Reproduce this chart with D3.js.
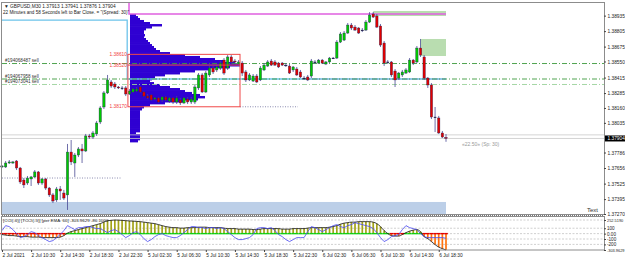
<!DOCTYPE html>
<html>
<head>
<meta charset="utf-8">
<script src="https://cdn.jsdelivr.net/npm/d3@7"></script>
<style>
  body { margin: 0; background: #fff; }
  svg { display: block; }
  text { font-family: "Liberation Sans", Arial, sans-serif; }
</style>
</head>
<body>
<svg id="chart" width="625" height="263"></svg>
<script>
// GBPUSD M30 candles, 2 Jul 06:30 .. 6 Jul 19:00
const opens = [
  1.37665,1.37665,1.37698,1.37698,1.37715,1.37656,1.37555,1.37530,1.37564,1.37581,
  1.37623,1.37530,1.37564,1.37488,1.37430,1.37388,1.37480,1.37446,1.37430,1.37790,
  1.37698,1.37765,1.37816,1.37799,1.37925,1.37916,1.37942,1.38042,1.38168,1.38286,
  1.38378,1.38361,1.38336,1.38328,1.38328,1.38277,1.38294,1.38302,1.38336,1.38294,
  1.38260,1.38269,1.38235,1.38244,1.38227,1.38252,1.38218,1.38244,1.38210,1.38227,
  1.38202,1.38235,1.38210,1.38210,1.38328,1.38437,1.38294,1.38437,1.38495,1.38479,
  1.38495,1.38562,1.38495,1.38588,1.38554,1.38529,1.38537,1.38462,1.38395,1.38386,
  1.38428,1.38395,1.38479,1.38512,1.38554,1.38546,1.38537,1.38537,1.38520,1.38512,
  1.38479,1.38487,1.38462,1.38411,1.38420,1.38428,1.38546,1.38537,1.38562,1.38529,
  1.38546,1.38579,1.38579,1.38713,1.38730,1.38789,1.38856,1.38839,1.38831,1.38814,
  1.38814,1.38881,1.38949,1.38932,1.38848,1.38705,1.38546,1.38546,1.38470,1.38411,
  1.38437,1.38453,1.38462,1.38562,1.38546,1.38663,1.38588,1.38411,1.38353,1.38084,
  1.38076,1.37950,1.37913
];
const highs = [
  1.37681,1.37715,1.37723,1.37715,1.37723,1.37665,1.37572,1.37589,1.37589,1.37639,
  1.37631,1.37572,1.37572,1.37497,1.37446,1.37497,1.37505,1.37472,1.37858,1.37891,
  1.37782,1.37832,1.37858,1.37942,1.37942,1.37967,1.38051,1.38176,1.38302,1.38437,
  1.38395,1.38378,1.38344,1.38344,1.38344,1.38319,1.38328,1.38336,1.38344,1.38302,
  1.38277,1.38277,1.38252,1.38252,1.38260,1.38260,1.38252,1.38252,1.38260,1.38244,
  1.38252,1.38252,1.38252,1.38353,1.38453,1.38453,1.38470,1.38512,1.38512,1.38520,
  1.38554,1.38579,1.38604,1.38604,1.38571,1.38562,1.38554,1.38479,1.38453,1.38445,
  1.38445,1.38512,1.38537,1.38562,1.38571,1.38562,1.38546,1.38546,1.38537,1.38529,
  1.38512,1.38504,1.38479,1.38428,1.38437,1.38571,1.38562,1.38571,1.38571,1.38554,
  1.38588,1.38588,1.38730,1.38797,1.38806,1.38873,1.38873,1.38856,1.38839,1.38831,
  1.38898,1.38965,1.38965,1.38949,1.38865,1.38722,1.38562,1.38554,1.38487,1.38462,
  1.38479,1.38495,1.38579,1.38571,1.38680,1.38739,1.38604,1.38420,1.38369,1.38168,
  1.38093,1.37967,1.37941
];
const lows = [
  1.37656,1.37656,1.37690,1.37690,1.37639,1.37522,1.37488,1.37514,1.37505,1.37572,
  1.37514,1.37514,1.37472,1.37413,1.37362,1.37371,1.37388,1.37388,1.37304,1.37681,
  1.37581,1.37748,1.37698,1.37790,1.37900,1.37900,1.37925,1.38025,1.38151,1.38277,
  1.38328,1.38319,1.38319,1.38311,1.38260,1.38269,1.38286,1.38294,1.38286,1.38252,
  1.38235,1.38218,1.38227,1.38202,1.38210,1.38218,1.38202,1.38193,1.38193,1.38185,
  1.38193,1.38193,1.38193,1.38193,1.38311,1.38286,1.38286,1.38420,1.38445,1.38462,
  1.38479,1.38437,1.38479,1.38529,1.38529,1.38520,1.38428,1.38378,1.38386,1.38378,
  1.38369,1.38386,1.38470,1.38504,1.38512,1.38512,1.38495,1.38512,1.38504,1.38445,
  1.38462,1.38428,1.38411,1.38395,1.38386,1.38411,1.38529,1.38529,1.38529,1.38520,
  1.38537,1.38571,1.38571,1.38705,1.38722,1.38781,1.38814,1.38806,1.38781,1.38797,
  1.38806,1.38873,1.38915,1.38831,1.38672,1.38512,1.38529,1.38420,1.38336,1.38395,
  1.38420,1.38445,1.38453,1.38520,1.38537,1.38588,1.38395,1.38328,1.38067,1.37958,
  1.37942,1.37908,1.37876
];
const closes = [
  1.37673,1.37698,1.37707,1.37707,1.37656,1.37539,1.37514,1.37572,1.37581,1.37623,
  1.37530,1.37564,1.37488,1.37430,1.37379,1.37480,1.37463,1.37404,1.37790,1.37707,
  1.37765,1.37816,1.37799,1.37925,1.37916,1.37950,1.38034,1.38160,1.38286,1.38395,
  1.38344,1.38336,1.38328,1.38328,1.38277,1.38302,1.38319,1.38319,1.38294,1.38260,
  1.38244,1.38227,1.38244,1.38210,1.38252,1.38227,1.38244,1.38210,1.38244,1.38202,
  1.38244,1.38210,1.38235,1.38336,1.38437,1.38294,1.38453,1.38495,1.38462,1.38504,
  1.38537,1.38453,1.38588,1.38546,1.38546,1.38546,1.38453,1.38395,1.38437,1.38428,
  1.38378,1.38495,1.38520,1.38546,1.38520,1.38520,1.38504,1.38520,1.38520,1.38453,
  1.38504,1.38437,1.38420,1.38411,1.38395,1.38554,1.38546,1.38562,1.38537,1.38546,
  1.38579,1.38579,1.38713,1.38781,1.38789,1.38856,1.38831,1.38814,1.38789,1.38814,
  1.38881,1.38940,1.38923,1.38839,1.38688,1.38537,1.38546,1.38437,1.38395,1.38453,
  1.38462,1.38479,1.38562,1.38537,1.38663,1.38604,1.38411,1.38353,1.38084,1.38084,
  1.37950,1.37916,1.37904
];

// time axis labels, one every 8 bars
const timeLabels = ["2 Jul 2021","2 Jul 10:30","2 Jul 14:30","2 Jul 18:30","2 Jul 22:30",
  "5 Jul 02:30","5 Jul 06:30","5 Jul 10:30","5 Jul 14:30","5 Jul 18:30","5 Jul 22:30",
  "6 Jul 02:30","6 Jul 06:30","6 Jul 10:30","6 Jul 14:30","6 Jul 18:30"];
const timeLabelBars = [0,8,16,24,32,40,48,56,64,72,80,88,96,104,112,120];

// price scale labels
const priceTicks = [1.38935,1.38805,1.38675,1.38550,1.38415,1.38285,1.38160,1.38035,
  1.37786,1.37656,1.37525,1.37395,1.37270];
const bidPrice = 1.37904;
const askPrice = 1.37934;

// volume profile (5 Jul onwards): price level and volume
const profilePrices = [
  1.38940,1.38923,1.38907,1.38890,1.38873,1.38856,1.38839,1.38823,1.38806,1.38789,
  1.38772,1.38756,1.38739,1.38722,1.38705,1.38688,1.38672,1.38655,1.38638,1.38621,
  1.38604,1.38588,1.38571,1.38554,1.38537,1.38520,1.38504,1.38487,1.38470,1.38453,
  1.38437,1.38420,1.38403,1.38386,1.38369,1.38353,1.38336,1.38319,1.38302,1.38286,
  1.38269,1.38252,1.38235,1.38218,1.38202,1.38185,1.38168,1.38151,1.38134,1.38118,
  1.38101,1.38084,1.38067,1.38051,1.38034,1.38017,1.38000,1.37983,1.37967,1.37950,
  1.37933,1.37916,1.37900,1.37883
];
const profileVolumes = [
  6,8,10,14,20,32,22,16,14,14,
  15,14,16,18,20,22,24,26,30,40,
  55,70,85,95,105,110,100,80,65,50,
  35,25,22,20,24,30,40,50,55,62,
  70,75,68,55,35,20,14,12,10,10,
  10,10,10,10,10,10,10,10,10,6,
  10,10,10,8
];

// value area box and levels
const boxLevels = [1.38610, 1.38520, 1.38170];
const boxLabels = ["1.38610", "1.38520", "1.38170"];
const orderLevels = [1.38533, 1.38403, 1.38357];
const orderLabels = ["#194068487 sell", "#194067958 sell", "#194073041 sell"];

// subwindow: CCI histogram and line
const histValues = [
  -18,-28,-37,-37,-46,-56,-56,-56,-65,-65,-65,-74,-74,-74,-74,-74,-65,-37,9,37,
  56,74,93,111,130,148,167,185,213,241,245,252.519,250,246,240,235,232,226,222,213,
  204,194,185,167,148,130,120,111,111,102,102,111,111,111,120,120,120,111,111,111,
  111,102,93,93,93,83,83,83,83,74,74,83,93,93,93,93,93,83,83,83,
  93,93,93,93,102,111,111,111,111,111,120,130,148,176,194,204,213,213,222,222,
  222,222,213,185,130,56,0,-37,-46,-46,-18,18,46,65,74,37,-56,-93,-148,-204,
  -250,-278,-303.9629
];
const cciValues = [
  56,148,130,74,0,-74,-56,-18,37,18,-37,-74,-111,-148,-130,-74,-18,56,148,111,
  74,111,111,130,130,111,93,93,56,18,56,74,37,-18,-74,-37,18,37,-18,-93,
  -148,-111,-56,-18,0,-37,-56,-74,-74,-37,18,74,130,130,111,111,93,111,111,93,
  111,93,37,-18,-74,-111,-111,-93,-74,-18,93,111,111,93,111,56,-18,-56,-111,-148,
  -111,-74,-74,-74,37,130,111,74,37,74,111,148,167,130,111,148,167,204,185,167,
  148,130,93,18,-74,-148,-111,-56,-37,-18,74,148,111,93,74,0,-56,-74,-74,-74,
  -74,-74,-86.1
];
const oscTicks = [252.519, 100, 0, -100, -200, -303.9629];
const oscTickLabels = ["252.5190", "100", "0.00", "-100", "-200", "-303.9629"];

const svg = d3.select("#chart");

const x = d3.scaleLinear().domain([0, 122]).range([2, 446]);
const y = d3.scaleLinear().domain([1.37270, 1.39041]).range([214, 3]);
const yOsc = d3.scaleLinear().domain([-303.9629, 252.519]).range([250, 220]);
const xVol = d3.scaleLinear().domain([0, 110]).range([130, 240]);
const barW = x(1) - x(0);

// light blue zone at the bottom
svg.append("rect")
  .attr("x", x(0)).attr("width", x(122) - x(0))
  .attr("y", y(1.37371)).attr("height", y(1.37270) - y(1.37371))
  .attr("fill", "#bccfe8");

// green zones
const greenZones = [[102, 122, 1.38974, 1.38932], [115, 122, 1.38739, 1.38596]];
svg.selectAll("rect.zone").data(greenZones).join("rect")
  .attr("x", d => x(d[0])).attr("width", d => x(d[1]) - x(d[0]))
  .attr("y", d => y(d[2])).attr("height", d => y(d[3]) - y(d[2]))
  .attr("fill", "#b9ddb0");

// volume profile
const rowH = Math.abs(y(profilePrices[0]) - y(profilePrices[1]));
svg.selectAll("rect.vp").data(profilePrices).join("rect")
  .attr("x", xVol(0))
  .attr("width", (d, i) => xVol(profileVolumes[i]) - xVol(0))
  .attr("y", d => y(d) - rowH / 2)
  .attr("height", rowH + 0.4)
  .attr("fill", "#2f00d2");

// cyan step line
const cyanPts = [[0, 1.38898], [34.4, 1.38898], [34.4, 1.38403], [122, 1.38403]];
svg.append("path")
  .attr("d", d3.line().x(d => x(d[0])).y(d => y(d[1]))(cyanPts))
  .attr("fill", "none").attr("stroke", "#6cc3ea").attr("stroke-width", 1.3);

// magenta line
const magPts = [[34.9, 1.39041], [34.9, 1.38949], [122, 1.38949]];
svg.append("path")
  .attr("d", d3.line().x(d => x(d[0])).y(d => y(d[1]))(magPts))
  .attr("fill", "none").attr("stroke", "#e060e0").attr("stroke-width", 1.5);

// bid / ask lines
svg.selectAll("line.ba").data([askPrice, bidPrice]).join("line")
  .attr("x1", 2).attr("x2", 604)
  .attr("y1", d => y(d)).attr("y2", d => y(d))
  .attr("stroke", "#c8c8c8").attr("stroke-width", 0.8);

// order lines (dash-dot)
svg.selectAll("line.ord").data(orderLevels).join("line")
  .attr("x1", 2).attr("x2", 604)
  .attr("y1", d => y(d)).attr("y2", d => y(d))
  .attr("stroke", (d, i) => i === 2 ? "#9bd39b" : "#3c9a3c")
  .attr("stroke-width", 0.9)
  .attr("stroke-dasharray", "5,2,1,2");
svg.selectAll("text.ord").data(orderLevels).join("text")
  .attr("x", 5).attr("y", d => y(d) - 1.5)
  .attr("font-size", 4.6).attr("fill", "#333")
  .text((d, i) => orderLabels[i]);

// dotted lines
const dottedLines = [[65.4, 81.3, 1.38170], [82.4, 122, 1.38403], [0, 32.7, 1.37572]];
svg.selectAll("line.dot").data(dottedLines).join("line")
  .attr("x1", d => x(d[0])).attr("x2", d => x(d[1]))
  .attr("y1", d => y(d[2])).attr("y2", d => y(d[2]))
  .attr("stroke", "#8080a8").attr("stroke-width", 0.9)
  .attr("stroke-dasharray", "1,1.5");

// candles
const candles = opens.map((o, i) => ({i, o, h: highs[i], l: lows[i], c: closes[i]}));
svg.selectAll("line.wick").data(candles).join("line")
  .attr("x1", d => x(d.i)).attr("x2", d => x(d.i))
  .attr("y1", d => y(d.h)).attr("y2", d => y(d.l))
  .attr("stroke", "#4a4a94").attr("stroke-width", 0.8);
svg.selectAll("rect.body").data(candles).join("rect")
  .attr("x", d => x(d.i) - 1.2).attr("width", 2.4)
  .attr("y", d => y(Math.max(d.o, d.c)))
  .attr("height", d => Math.max(0.8, Math.abs(y(d.o) - y(d.c))))
  .attr("fill", d => d.c > d.o ? "#00c800" : d.c < d.o ? "#e00000" : "#202040")
  .attr("stroke", "#202050").attr("stroke-width", 0.35);

// value area box
const box = svg.append("g");
box.append("rect")
  .attr("x", x(34.6)).attr("width", x(65.4) - x(34.6))
  .attr("y", y(boxLevels[0])).attr("height", y(boxLevels[2]) - y(boxLevels[0]))
  .attr("fill", "none").attr("stroke", "#f04848").attr("stroke-width", 1);
box.append("line")
  .attr("x1", x(34.6)).attr("x2", x(65.4))
  .attr("y1", y(boxLevels[1])).attr("y2", y(boxLevels[1]))
  .attr("stroke", "#f04848").attr("stroke-width", 1);
box.selectAll("text").data(boxLevels).join("text")
  .attr("x", x(34.6) - 1).attr("y", d => y(d) + 1.5)
  .attr("text-anchor", "end").attr("font-size", 4.8).attr("fill", "#f04040")
  .text((d, i) => boxLabels[i]);

// chart frame
svg.append("rect").attr("x", 1.5).attr("y", 2.5).attr("width", 603).attr("height", 212)
  .attr("fill", "none").attr("stroke", "#8c8c8c").attr("stroke-width", 1);

// header texts
svg.append("text").attr("x", 4).attr("y", 7.5).attr("font-size", 4.8).attr("fill", "#222")
  .text("\u25BC GBPUSD,M30  1.37913 1.37941 1.37876 1.37904");
svg.append("text").attr("x", 3).attr("y", 14).attr("font-size", 4.6).attr("fill", "#222")
  .text("22 Minutes and 58 Seconds left to Bar Close.  = \"(Spread: 30)\"");
svg.append("text").attr("x", 462).attr("y", y(bidPrice) + 8).attr("font-size", 5).attr("fill", "#999")
  .text("\u00AB22.50\u00BB (Sp: 30)");
svg.append("text").attr("x", 587).attr("y", 212).attr("font-size", 6).attr("fill", "#333")
  .text("Text");

// price axis
const pAxis = svg.append("g").attr("transform", "translate(604,0)")
  .call(d3.axisRight(y).tickValues(priceTicks).tickFormat(d3.format(".5f")).tickSize(2).tickPadding(1.5));
pAxis.select(".domain").remove();
pAxis.selectAll("text").attr("font-size", 4.8).attr("fill", "#222").attr("font-family", "Liberation Sans");
pAxis.selectAll("line").attr("stroke", "#444");
// current price marker
svg.append("rect").attr("x", 605).attr("y", y(bidPrice) - 3).attr("width", 20).attr("height", 6).attr("fill", "#000");
svg.append("text").attr("x", 607.5).attr("y", y(bidPrice) + 1.8).attr("font-size", 4.8).attr("fill", "#fff")
  .text(d3.format(".5f")(bidPrice));

// ---- subwindow ----
svg.append("line").attr("x1", 2).attr("x2", 604).attr("y1", 215.8).attr("y2", 215.8)
  .attr("stroke", "#777").attr("stroke-width", 1.6).attr("stroke-dasharray", "1,1");
svg.selectAll("line.og").data(oscTicks.slice(0, 5)).join("line")
  .attr("x1", 2).attr("x2", 604)
  .attr("y1", d => yOsc(d)).attr("y2", d => yOsc(d))
  .attr("stroke", "#b0b0b0").attr("stroke-width", 0.6).attr("stroke-dasharray", "2,1.5");

svg.selectAll("line.hist").data(histValues).join("line")
  .attr("x1", (d, i) => x(i)).attr("x2", (d, i) => x(i))
  .attr("y1", yOsc(0)).attr("y2", d => yOsc(d))
  .attr("stroke", d => d >= 0 ? "#a3a319" : "#ff7410").attr("stroke-width", 1.7);

svg.selectAll("line.zero").data(histValues).join("line")
  .attr("x1", (d, i) => x(i) - barW / 2).attr("x2", (d, i) => x(i) + barW / 2)
  .attr("y1", yOsc(0)).attr("y2", yOsc(0))
  .attr("stroke", d => d >= 0 ? "#10d010" : "#e00000").attr("stroke-width", 1.4);

svg.append("path")
  .attr("d", d3.line().x((d, i) => x(i)).y(d => yOsc(d)).curve(d3.curveMonotoneX)(histValues))
  .attr("fill", "none").attr("stroke", "#111").attr("stroke-width", 0.8);
svg.append("path")
  .attr("d", d3.line().x((d, i) => x(i)).y(d => yOsc(d))(cciValues))
  .attr("fill", "none").attr("stroke", "#4646f0").attr("stroke-width", 0.8);

svg.append("text").attr("x", 3).attr("y", 222).attr("font-size", 4.4).attr("fill", "#222")
  .text("[CCI(-6)] [TCCI(-5)] [per EMA: 60]  -303.9629  -86.1000");

svg.append("rect").attr("x", 1.5).attr("y", 216.5).attr("width", 603).attr("height", 33.5)
  .attr("fill", "none").attr("stroke", "#8c8c8c").attr("stroke-width", 1);

const oAxis = svg.append("g").attr("transform", "translate(604,0)")
  .call(d3.axisRight(yOsc).tickValues(oscTicks).tickFormat((d, i) => oscTickLabels[i]).tickSize(2).tickPadding(1));
oAxis.select(".domain").remove();
oAxis.selectAll("text").attr("font-size", (d, i) => i === 0 || i === 5 ? 3.9 : 4.6)
  .attr("fill", "#222").attr("font-family", "Liberation Sans");
oAxis.selectAll("line").attr("stroke", "#444");

// time axis
const tAxis = svg.append("g").attr("transform", "translate(0,250)")
  .call(d3.axisBottom(x).tickValues(timeLabelBars).tickFormat((d, i) => timeLabels[i]).tickSize(2).tickPadding(2));
tAxis.select(".domain").remove();
tAxis.selectAll("text").attr("font-size", 4.8).attr("fill", "#222").attr("text-anchor", "start")
  .attr("font-family", "Liberation Sans").attr("dx", 0);
tAxis.selectAll("line").attr("stroke", "#444");
</script>
</body>
</html>
